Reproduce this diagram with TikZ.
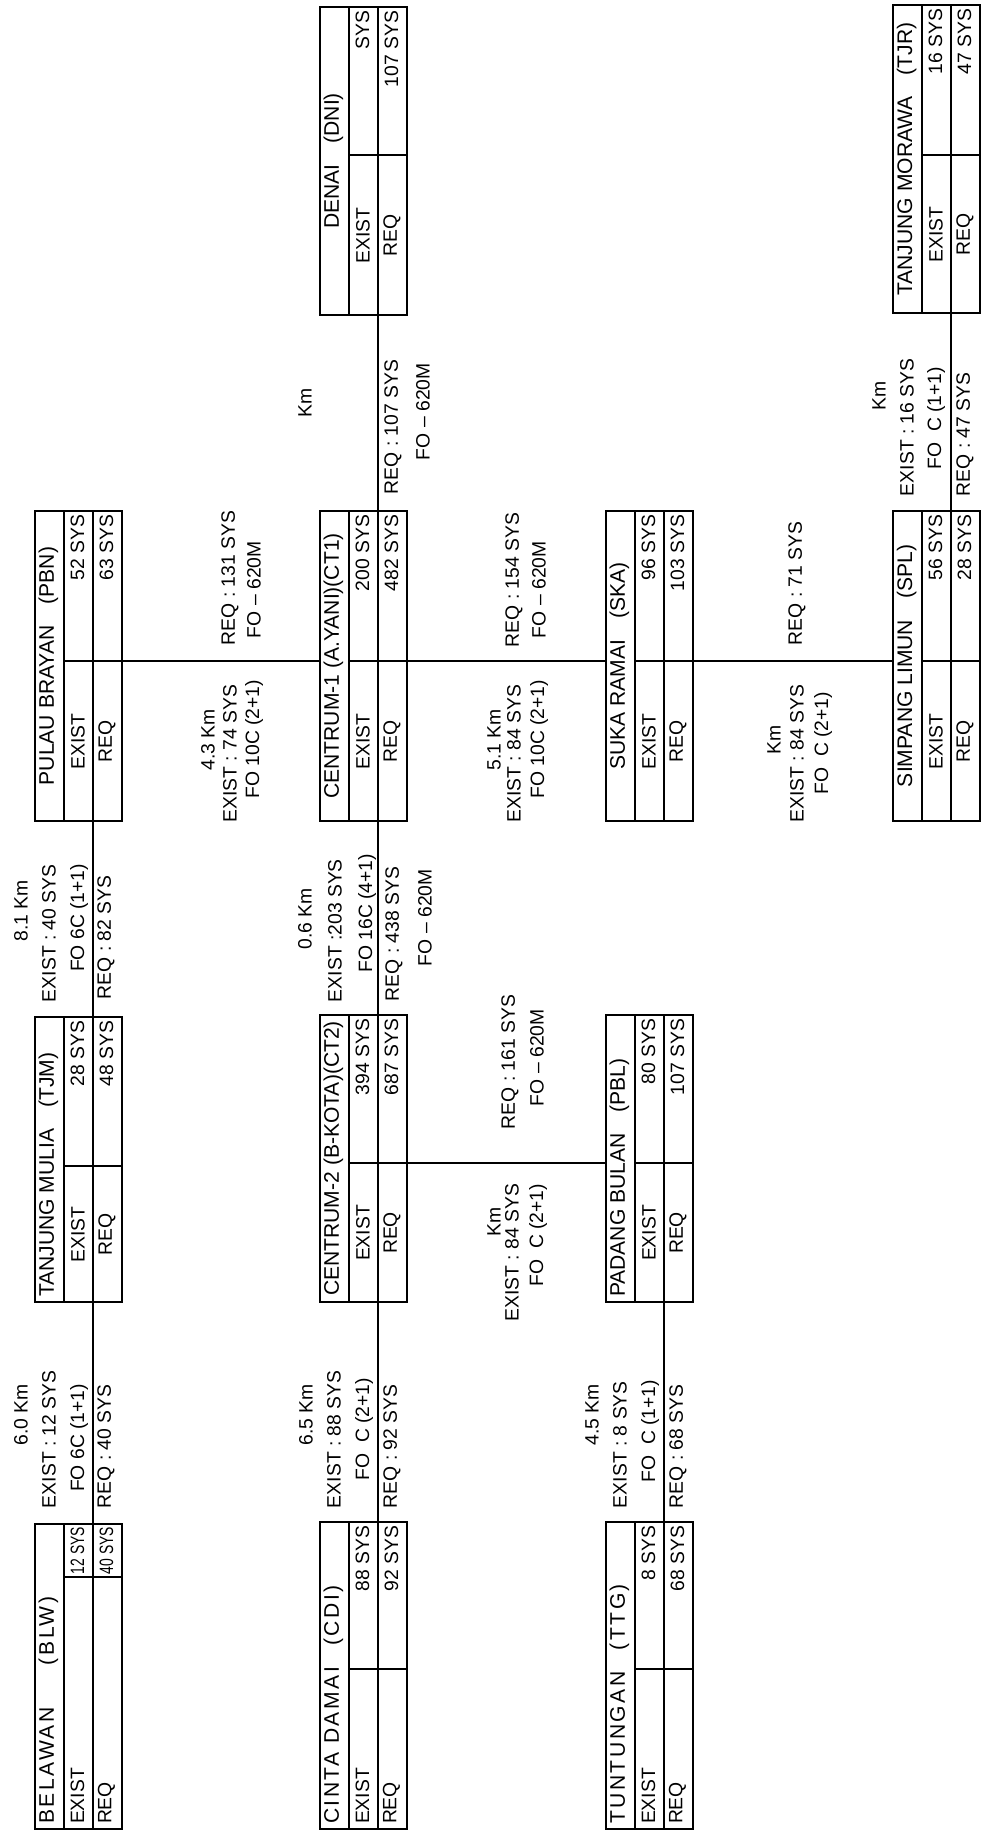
\documentclass[tikz,border=0pt]{standalone}
\usepackage{fontspec}
\setmainfont{Liberation Sans}
\newfontfamily\narrowsf[FakeStretch=0.72]{Liberation Sans}
\newfontfamily\widesf[LetterSpace=12]{Liberation Sans}
\usetikzlibrary{calc}

\begin{document}
\begin{tikzpicture}[x=0.02cm, y=-0.02cm, rotate=90, transform shape,
    line width=1.1pt,
    box/.style={draw, inner sep=0pt},
    ttl/.style={inner sep=0pt, font=\fontsize{12}{14}\selectfont},
    ttlw/.style={inner sep=0pt, font=\widesf\fontsize{12}{14}\selectfont},
    lbl/.style={inner sep=0pt, font=\fontsize{11}{13}\selectfont}]

    \useasboundingbox (0,0) rectangle (1836,983);

    % 站点方框
    \foreach \n/\ua/\ub/\ud/\v in {blw/7/312/259/35, tjm/534/819/670/35, pbn/1015/1325/1175/35,
        cdi/7/314/167/320, ct2/534/821/673/320, ct1/1015/1325/1175/320, dni/1521/1829/1681/320,
        ttg/7/314/167/606, pbl/534/821/673/606, ska/1015/1325/1175/606,
        spl/1015/1325/1175/893, tjr/1523/1831/1681/893} {
        \node[box, minimum width={(\ub-\ua)*0.02cm}, minimum height={87*0.02cm}]
            (\n) at ({(\ua+\ub)/2},\v+43.5) {};
        \coordinate (\n-l) at (\ua,\v+58);
        \coordinate (\n-r) at (\ub,\v+58);
        \coordinate (\n-t) at (\ud,\v);
        \coordinate (\n-b) at (\ud,\v+87);
        \draw (\ua,\v+29) -- (\ub,\v+29);
        \draw (\n-l) -- (\n-r);
        \draw (\ud,\v+29) -- (\n-b);
    }

    % 连接线
    \draw (blw-r) -- (tjm-l);
    \draw (tjm-r) -- (pbn-l);
    \draw (cdi-r) -- (ct2-l);
    \draw (ct2-r) -- (ct1-l);
    \draw (ct1-r) -- (dni-l);
    \draw (ttg-r) -- (pbl-l);
    \draw (spl-r) -- (tjr-l);
    \draw (pbn-b) -- (ct1-t);
    \draw (ct1-b) -- (ska-t);
    \draw (ska-b) -- (spl-t);
    \draw (ct2-b) -- (pbl-t);

    % 站名
    \foreach \n/\t in {blw/{BELAWAN\qquad(BLW)}, cdi/{CINTA DAMAI\quad(CDI)}, ttg/{TUNTUNGAN\quad(TTG)}}
        \node[ttlw, anchor=west] (\n-name) at ($(\n.north west)+(5,14.5)$) {\t};
    \foreach \n/\t in {tjm/{TANJUNG MULIA\quad(TJM)}, pbl/{PADANG BULAN\quad(PBL)}}
        \node[ttl, anchor=west] (\n-name) at ($(\n.north west)+(5,14.5)$) {\t};
    \foreach \n/\t in {pbn/{PULAU BRAYAN\quad(PBN)}, ct2/{CENTRUM-2 (B-KOTA)(CT2)},
        ct1/{CENTRUM-1 (A.YANI)(CT1)}, dni/{DENAI\quad(DNI)}, ska/{SUKA RAMAI\quad(SKA)},
        spl/{SIMPANG LIMUN\quad(SPL)}, tjr/{TANJUNG MORAWA\quad(TJR)}}
        \node[ttl] (\n-name) at ($(\n.north)+(0,14.5)$) {\t};

    % 行标签
    \foreach \n in {blw,cdi,ttg} {
        \node[lbl, anchor=west] (\n-ex) at ($(\n.north west)+(5,43.5)$) {EXIST};
        \node[lbl, anchor=west] (\n-rq) at ($(\n.north west)+(5,72.5)$) {REQ};
    }
    \foreach \n in {tjm,pbn,ct2,ct1,dni,pbl,ska,spl,tjr} {
        \node[lbl] (\n-ex) at ($(\n.north west)!0.5!(\n-t)+(0,43.5)$) {EXIST};
        \node[lbl] (\n-rq) at ($(\n.north west)!0.5!(\n-t)+(0,72.5)$) {REQ};
    }

    % 数值
    \foreach \n/\e/\r in {tjm/28 SYS/48 SYS, pbn/52 SYS/63 SYS, cdi/88 SYS/92 SYS,
        ct2/394 SYS/687 SYS, ct1/200 SYS/482 SYS, dni/SYS/107 SYS, ttg/8 SYS/68 SYS,
        pbl/80 SYS/107 SYS, ska/96 SYS/103 SYS, spl/56 SYS/28 SYS, tjr/16 SYS/47 SYS} {
        \node[lbl, anchor=east] (\n-ev) at ($(\n.north east)+(-4,43.5)$) {\e};
        \node[lbl, anchor=east] (\n-rv) at ($(\n.north east)+(-4,72.5)$) {\r};
    }
    \node[lbl, anchor=east, font=\narrowsf\fontsize{11}{13}\selectfont] (blw-ev)
        at ($(blw.north east)+(-3,43.5)$) {12 SYS};
    \node[lbl, anchor=east, font=\narrowsf\fontsize{11}{13}\selectfont] (blw-rv)
        at ($(blw.north east)+(-3,72.5)$) {40 SYS};

    % BLW - TJM
    \node[lbl] (km1) at (421,21) {6.0 Km};
    \node[lbl, anchor=west] (ex1) at (327,49) {EXIST : 12 SYS};
    \node[lbl, anchor=east] (fo1) at (453,79) {FO 6C (1+1)};
    \node[lbl, anchor=west] (rq1) at (327,106) {REQ : 40 SYS};

    % TJM - PBN
    \node[lbl] (km2) at (925,21) {8.1 Km};
    \node[lbl, anchor=west] (ex2) at (833,49) {EXIST : 40 SYS};
    \node[lbl, anchor=east] (fo2) at (973,79) {FO 6C (1+1)};
    \node[lbl, anchor=west] (rq2) at (836,106) {REQ : 82 SYS};

    % CDI - CT2
    \node[lbl] (km3) at (421,306) {6.5 Km};
    \node[lbl, anchor=west] (ex3) at (327,334) {EXIST : 88 SYS};
    \node[lbl, anchor=east] (fo3) at (459,364) {FO\ \ C (2+1)};
    \node[lbl, anchor=west] (rq3) at (327,392) {REQ : 92 SYS};

    % CT2 - CT1
    \node[lbl] (km4) at (917,305) {0.6 Km};
    \node[lbl, anchor=west] (ex4) at (833,335) {EXIST :203 SYS};
    \node[lbl, anchor=east] (fo4) at (983,367) {FO 16C (4+1)};
    \node[lbl, anchor=west] (rq4) at (834,394) {REQ : 438 SYS};
    \node[lbl, anchor=west] (fm4) at (869,425) {FO -- 620M};

    % CT1 - DNI
    \node[lbl] (km5) at (1433,305) {Km};
    \node[lbl, anchor=west] (rq5) at (1341,393) {REQ : 107 SYS};
    \node[lbl, anchor=west] (fm5) at (1375,423) {FO -- 620M};

    % TTG - PBL
    \node[lbl] (km6) at (421,592) {4.5 Km};
    \node[lbl, anchor=west] (ex6) at (327,620) {EXIST : 8 SYS};
    \node[lbl, anchor=east] (fo6) at (457,650) {FO\ \ C (1+1)};
    \node[lbl, anchor=west] (rq6) at (327,678) {REQ : 68 SYS};

    % SPL - TJR
    \node[lbl] (km7) at (1440,879) {Km};
    \node[lbl, anchor=west] (ex7) at (1339,907) {EXIST : 16 SYS};
    \node[lbl, anchor=east] (fo7) at (1470,936) {FO\ \ C (1+1)};
    \node[lbl, anchor=west] (rq7) at (1339,965) {REQ : 47 SYS};

    % PBN - CT1
    \node[lbl] (km8) at (1096,208) {4.3 Km};
    \node[lbl, anchor=east] (ex8) at (1152,230) {EXIST : 74 SYS};
    \node[lbl, anchor=east] (fo8) at (1157,254) {FO 10C (2+1)};
    \node[lbl, anchor=west] (rq8) at (1190,230) {REQ : 131 SYS};
    \node[lbl, anchor=west] (fm8) at (1197,254) {FO -- 620M};

    % CT1 - SKA
    \node[lbl] (km9) at (1096,494) {5.1 Km};
    \node[lbl, anchor=east] (ex9) at (1152,514) {EXIST : 84 SYS};
    \node[lbl, anchor=east] (fo9) at (1157,539) {FO 10C (2+1)};
    \node[lbl, anchor=west] (rq9) at (1188,514) {REQ : 154 SYS};
    \node[lbl, anchor=west] (fm9) at (1197,539) {FO -- 620M};

    % SKA - SPL
    \node[lbl] (km10) at (1096,774) {Km};
    \node[lbl, anchor=east] (ex10) at (1152,797) {EXIST : 84 SYS};
    \node[lbl, anchor=east] (fo10) at (1145,823) {FO\ \ C (2+1)};
    \node[lbl, anchor=west] (rq10) at (1190,797) {REQ : 71 SYS};

    % CT2 - PBL
    \node[lbl] (km11) at (614,494) {Km};
    \node[lbl, anchor=east] (ex11) at (653,512) {EXIST : 84 SYS};
    \node[lbl, anchor=east] (fo11) at (653,538) {FO\ \ C (2+1)};
    \node[lbl, anchor=west] (rq11) at (706,510) {REQ : 161 SYS};
    \node[lbl, anchor=west] (fm11) at (729,537) {FO -- 620M};
\end{tikzpicture}
\end{document}
